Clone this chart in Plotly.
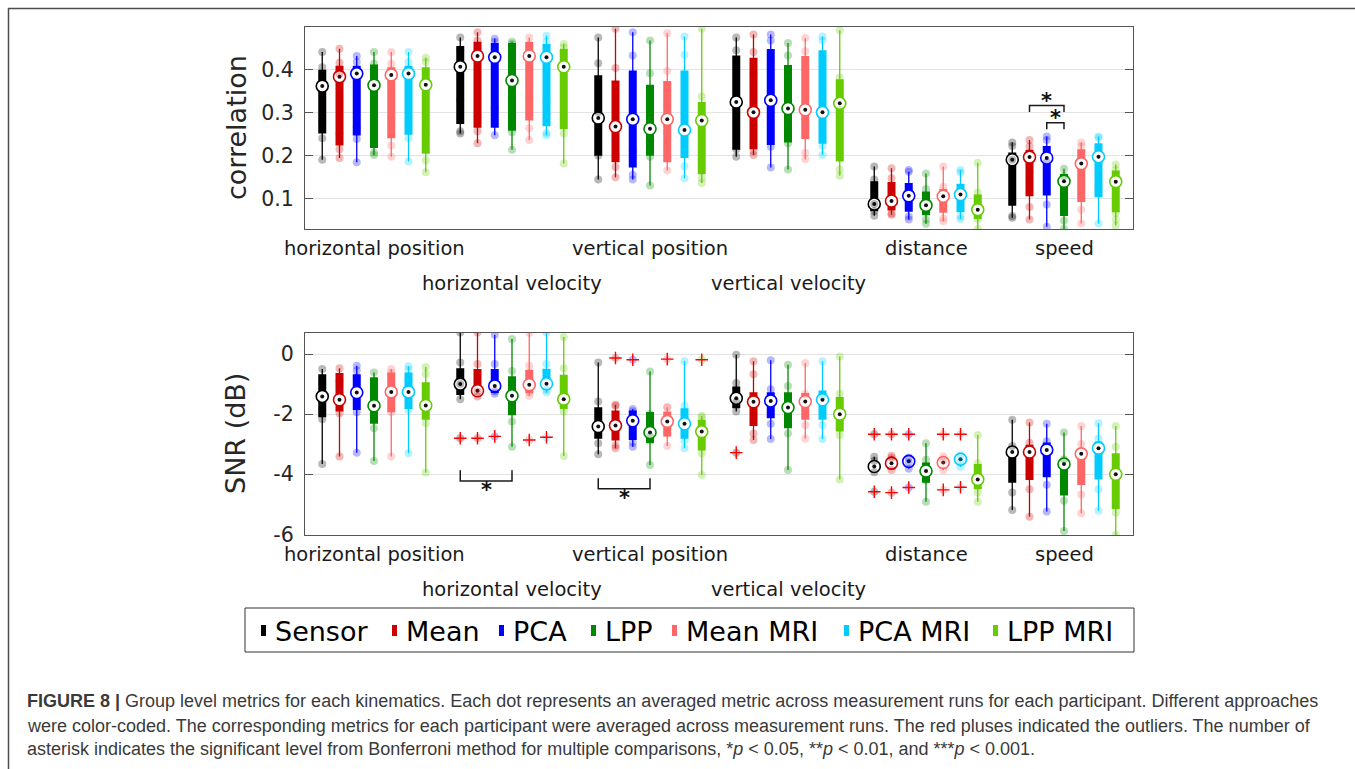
import plotly.graph_objects as go

METHODS = ["Sensor", "Mean", "PCA", "LPP", "Mean MRI", "PCA MRI", "LPP MRI"]
COLORS = ["#000000", "#cc0000", "#0000ff", "#008800", "#ff6666", "#00ccff", "#66cc00"]
KINEMATICS = ["horizontal position", "horizontal velocity", "vertical position",
              "vertical velocity", "distance", "speed"]
LABEL_ROW = [0, 1, 0, 1, 0, 0]   # labels alternate between two rows where they would collide

# ---------------- correlation (rows: methods, columns: kinematics) ----------------
CORR_Q1 = [
    [0.252, 0.274, 0.200, 0.214, 0.071, 0.084],
    [0.224, 0.265, 0.185, 0.215, 0.073, 0.106],
    [0.247, 0.265, 0.173, 0.225, 0.070, 0.108],
    [0.218, 0.258, 0.200, 0.231, 0.062, 0.060],
    [0.241, 0.282, 0.185, 0.239, 0.068, 0.093],
    [0.249, 0.269, 0.195, 0.228, 0.069, 0.104],
    [0.205, 0.262, 0.157, 0.187, 0.053, 0.069],
]
CORR_MED = [
    [0.362, 0.407, 0.288, 0.325, 0.088, 0.191],
    [0.384, 0.432, 0.268, 0.301, 0.095, 0.197],
    [0.391, 0.429, 0.285, 0.329, 0.107, 0.195],
    [0.364, 0.375, 0.263, 0.310, 0.085, 0.141],
    [0.388, 0.432, 0.285, 0.307, 0.106, 0.182],
    [0.391, 0.429, 0.260, 0.301, 0.110, 0.198],
    [0.365, 0.407, 0.282, 0.322, 0.075, 0.140],
]
CORR_Q3 = [
    [0.400, 0.455, 0.387, 0.433, 0.141, 0.208],
    [0.409, 0.465, 0.375, 0.428, 0.139, 0.214],
    [0.409, 0.462, 0.398, 0.448, 0.137, 0.223],
    [0.412, 0.462, 0.365, 0.411, 0.117, 0.158],
    [0.406, 0.465, 0.374, 0.432, 0.123, 0.215],
    [0.409, 0.460, 0.398, 0.445, 0.135, 0.229],
    [0.406, 0.449, 0.325, 0.378, 0.110, 0.166],
]
CORR_LO = [
    [0.191, 0.252, 0.145, 0.198, 0.061, 0.056],
    [0.195, 0.229, 0.150, 0.202, 0.063, 0.052],
    [0.185, 0.248, 0.145, 0.173, 0.052, 0.035],
    [0.202, 0.214, 0.131, 0.168, 0.042, 0.030],
    [0.198, 0.237, 0.166, 0.192, 0.048, 0.043],
    [0.187, 0.248, 0.148, 0.202, 0.053, 0.043],
    [0.162, 0.182, 0.137, 0.154, 0.030, 0.038],
]
CORR_HI = [
    [0.441, 0.475, 0.475, 0.475, 0.175, 0.231],
    [0.449, 0.487, 0.495, 0.482, 0.171, 0.237],
    [0.432, 0.472, 0.487, 0.482, 0.163, 0.245],
    [0.441, 0.465, 0.468, 0.462, 0.159, 0.170],
    [0.441, 0.475, 0.485, 0.474, 0.175, 0.231],
    [0.441, 0.479, 0.477, 0.477, 0.167, 0.245],
    [0.428, 0.460, 0.495, 0.492, 0.184, 0.180],
]
# participants lying between the whisker ends
CORR_PTS = [
    [[0.406, 0.387, 0.279, 0.241], [0.445, 0.330, 0.257], [0.415, 0.302, 0.201], [0.445, 0.215], [0.145, 0.088, 0.071], [0.223, 0.191, 0.060]],
    [[0.416, 0.391, 0.252, 0.215], [0.468, 0.290, 0.257], [0.404, 0.200, 0.174], [0.441, 0.390, 0.210], [0.148, 0.066], [0.222, 0.081]],
    [[0.418, 0.266, 0.239], [0.465, 0.310], [0.433, 0.211, 0.156], [0.468, 0.221], [0.167, 0.059], [0.237, 0.185, 0.087]],
    [[0.414, 0.391, 0.300, 0.208], [0.460, 0.271, 0.255], [0.392, 0.285, 0.198], [0.433, 0.229], [0.123, 0.052], [0.153, 0.049]],
    [[0.414, 0.289, 0.224], [0.456, 0.334, 0.264], [0.397, 0.316], [0.443, 0.207], [0.128, 0.055], [0.222, 0.075]],
    [[0.418, 0.272, 0.241], [0.465, 0.325, 0.253], [0.435, 0.176], [0.468, 0.223], [0.161, 0.059], [0.242, 0.124]],
    [[0.418, 0.252, 0.190], [0.452, 0.287, 0.252], [0.338, 0.148], [0.382, 0.307, 0.168], [0.115, 0.053], [0.167, 0.067, 0.052]],
]
CORR_OUT = [[[] for _ in KINEMATICS] for _ in METHODS]
CORR_TICKS = [0.1, 0.2, 0.3, 0.4]
CORR_RANGE = [0.03, 0.5]
# (kinematic, method a, method b, bracket level, stars)
CORR_SIG = [(5, 1, 3, 0.317, "*"), (5, 2, 3, 0.277, "*")]

# ---------------- SNR in dB ----------------
SNR_Q1 = [
    [-2.10, -1.36, -2.82, -1.80, -3.91, -4.28],
    [-1.91, -1.36, -2.88, -2.39, -3.83, -4.19],
    [-1.86, -1.30, -2.86, -2.14, -3.69, -4.10],
    [-2.32, -2.04, -2.97, -2.47, -4.28, -4.71],
    [-1.94, -1.30, -2.74, -2.19, -3.80, -4.36],
    [-1.83, -1.19, -2.82, -2.19, -3.66, -4.17],
    [-2.19, -1.83, -3.21, -2.58, -4.50, -5.16],
]
SNR_MED = [
    [-1.41, -1.00, -2.41, -1.47, -3.74, -3.26],
    [-1.52, -1.22, -2.38, -1.59, -3.63, -3.26],
    [-1.28, -1.06, -2.22, -1.56, -3.57, -3.19],
    [-1.72, -1.39, -2.61, -1.78, -3.89, -3.66],
    [-1.26, -1.02, -2.24, -1.58, -3.61, -3.32],
    [-1.26, -0.99, -2.32, -1.52, -3.50, -3.13],
    [-1.71, -1.50, -2.58, -2.00, -4.17, -4.00],
]
SNR_Q3 = [
    [-0.67, -0.47, -1.77, -1.08, -3.61, -3.08],
    [-0.63, -0.50, -1.88, -1.27, -3.50, -3.02],
    [-0.67, -0.50, -1.88, -1.27, -3.47, -2.94],
    [-0.77, -0.74, -1.93, -1.27, -3.61, -3.58],
    [-0.61, -0.52, -1.91, -1.30, -3.47, -3.17],
    [-0.61, -0.49, -1.80, -1.21, -3.39, -2.91],
    [-0.94, -0.69, -2.19, -1.43, -3.66, -3.30],
]
SNR_LO = [
    [-3.66, -1.50, -3.33, -1.91, -3.93, -5.19],
    [-3.41, -1.41, -3.13, -2.86, -3.86, -5.41],
    [-3.28, -1.32, -3.08, -2.83, -3.82, -5.24],
    [-3.56, -3.08, -3.69, -3.86, -4.91, -5.89],
    [-3.41, -1.39, -3.06, -2.82, -3.87, -5.30],
    [-3.30, -1.28, -3.13, -2.83, -3.76, -5.21],
    [-3.94, -3.39, -4.02, -4.17, -4.91, -6.02],
]
SNR_HI = [
    [-0.50, 0.72, -0.28, -0.02, -3.42, -2.19],
    [-0.47, 0.72, -1.69, -0.24, -3.38, -2.28],
    [-0.39, 0.64, -1.83, -0.21, -3.44, -2.32],
    [-0.61, 0.50, -0.58, -0.36, -2.97, -2.61],
    [-0.50, 0.70, -1.77, -0.30, -3.40, -2.39],
    [-0.41, 0.72, -0.24, -0.24, -3.37, -2.30],
    [-0.43, 0.57, -2.06, -0.08, -2.69, -2.39],
]
SNR_PTS = [
    [[-0.94, -1.83, -2.17], [-0.28, -1.00], [-1.58, -2.97], [-0.96, -1.60], [-3.55], [-3.06, -4.61]],
    [[-0.90, -1.97], [-0.33, -1.25], [-1.72, -3.04], [-0.67, -2.64], [-3.45], [-2.95, -4.50]],
    [[-0.55, -0.80, -1.94], [-0.33, -1.25], [-1.90, -2.95], [-1.17, -2.32], [-3.60], [-2.90, -4.35]],
    [[-1.13, -2.47], [-0.56, -2.24], [-2.00, -2.74], [-1.06, -2.64], [-3.52, -4.20], [-3.50, -4.30, -4.88]],
    [[-0.62, -1.94], [-0.39, -1.28], [-1.77, -2.63], [-1.33, -2.36], [-3.55], [-2.99, -4.67]],
    [[-0.52, -0.86, -1.86], [-0.33, -1.20], [-1.72, -2.89], [-1.37, -2.36], [-3.60], [-2.81, -4.50]],
    [[-0.66, -2.30], [-0.47, -1.91], [-2.10, -3.31], [-1.32, -2.69], [-3.63, -4.61], [-3.08, -5.28]],
]
SNR_OUT = [
    [[], [-2.80], [], [-3.28], [-2.67, -4.58], []],
    [[], [-2.80], [-0.13], [], [-2.67, -4.61], []],
    [[], [-2.74], [-0.19], [], [-2.67, -4.44], []],
    [[], [], [], [], [], []],
    [[], [-2.86], [-0.17], [], [-2.67, -4.52], []],
    [[], [-2.77], [], [], [-2.67, -4.43], []],
    [[], [], [-0.19], [], [], []],
]
SNR_TICKS = [0, -2, -4, -6]
SNR_RANGE = [-6.02, 0.71]
SNR_SIG = [(1, 0, 3, -4.22, "*"), (2, 0, 3, -4.48, "*")]

W = 1355
H = 781          # canvas height
REF_H = 769      # vertical layout grid in which positions below are expressed
FONT = "DejaVu Sans"
GROUP_STEP = 8


def px(x):
    return x / W


def py(y):
    return 1 - y / REF_H


def slot(g, m):
    return GROUP_STEP * g + 4 + (m - 3)


def rgba(hexc, a):
    r, g, b = int(hexc[1:3], 16), int(hexc[3:5], 16), int(hexc[5:7], 16)
    return f"rgba({r},{g},{b},{a})"


fig = go.Figure()

panels = [
    dict(xa="x", ya="y", q1=CORR_Q1, med=CORR_MED, q3=CORR_Q3, lo=CORR_LO, hi=CORR_HI,
         pts=CORR_PTS, out=CORR_OUT, sig=CORR_SIG, leg=0.015, star=0.011, sgn=1),
    dict(xa="x2", ya="y2", q1=SNR_Q1, med=SNR_MED, q3=SNR_Q3, lo=SNR_LO, hi=SNR_HI,
         pts=SNR_PTS, out=SNR_OUT, sig=SNR_SIG, leg=0.35, star=0.30, sgn=-1),
]

for p in panels:
    for m, (name, col) in enumerate(zip(METHODS, COLORS)):
        xs = [slot(g, m) for g in range(len(KINEMATICS))]
        wx, wy, bx, by = [], [], [], []
        for g, x in enumerate(xs):
            wx += [x, x, None]
            wy += [p["lo"][m][g], p["hi"][m][g], None]
            bx += [x, x, None]
            by += [p["q1"][m][g], p["q3"][m][g], None]
        common = dict(xaxis=p["xa"], yaxis=p["ya"], showlegend=False, hoverinfo="skip")
        # whiskers
        fig.add_trace(go.Scatter(x=wx, y=wy, mode="lines", line=dict(color=col, width=1.3), **common))
        # interquartile boxes
        fig.add_trace(go.Scatter(x=bx, y=by, mode="lines", line=dict(color=col, width=8), **common))
        # median: ringed circle with a dark centre
        fig.add_trace(go.Scatter(x=xs, y=p["med"][m], mode="markers",
                                 marker=dict(size=12, color="white", line=dict(color=col, width=1.6)),
                                 **common))
        fig.add_trace(go.Scatter(x=xs, y=p["med"][m], mode="markers",
                                 marker=dict(size=4, color="#111111", line=dict(width=0)), **common))
        # individual participants
        dx, dy = [], []
        for g, x in enumerate(xs):
            vals = [p["lo"][m][g], p["hi"][m][g]] + p["pts"][m][g] + p["out"][m][g]
            dx += [x] * len(vals)
            dy += vals
        fig.add_trace(go.Scatter(x=dx, y=dy, mode="markers",
                                 marker=dict(size=8, color=rgba(col, 0.28), line=dict(width=0)),
                                 **common))
        # outliers
        ox, oy = [], []
        for g, x in enumerate(xs):
            ox += [x] * len(p["out"][m][g])
            oy += p["out"][m][g]
        if ox:
            fig.add_trace(go.Scatter(x=ox, y=oy, mode="markers",
                                     marker=dict(symbol="cross-thin", size=9,
                                                 line=dict(color="#ff0000", width=1.4)),
                                     **common))
    # significance brackets
    for g, a, b, lvl, stars in p["sig"]:
        xa_, xb_ = slot(g, a), slot(g, b)
        end = lvl - p["sgn"] * p["leg"]
        fig.add_trace(go.Scatter(x=[xa_, xa_, xb_, xb_], y=[end, lvl, lvl, end], mode="lines",
                                 line=dict(color="#1a1a1a", width=1.5), xaxis=p["xa"], yaxis=p["ya"],
                                 showlegend=False, hoverinfo="skip"))
        fig.add_annotation(x=(xa_ + xb_) / 2, y=lvl + p["sgn"] * p["star"], xref=p["xa"], yref=p["ya"],
                           text=f"<b>{stars}</b>", showarrow=False, yanchor="middle",
                           font=dict(family=FONT, size=21, color="#111111"))

# axes
xdom = [px(305), px(1133)]
axis_common = dict(showline=True, linecolor="#555555", linewidth=1.3, zeroline=False, fixedrange=True)
x_common = dict(domain=xdom, range=[0, GROUP_STEP * len(KINEMATICS)], showgrid=False,
                showticklabels=False, ticks="", mirror=True, **axis_common)
y_common = dict(ticks="inside", ticklen=8, tickcolor="#555555", tickwidth=1.3, mirror="ticks",
                showgrid=True, gridcolor="#e3e3e3", gridwidth=1,
                tickfont=dict(family=FONT, size=20.5, color="#262626"), ticklabelstandoff=6,
                **axis_common)

fig.update_layout(
    width=W, height=H, margin=dict(l=0, r=0, t=0, b=0),
    paper_bgcolor="white", plot_bgcolor="white", showlegend=False,
    xaxis=dict(anchor="y", **x_common),
    xaxis2=dict(anchor="y2", **x_common),
    yaxis=dict(anchor="x", domain=[py(229), py(26.7)], range=CORR_RANGE,
               tickvals=CORR_TICKS, ticktext=[f"{v:g}" for v in CORR_TICKS], **y_common),
    yaxis2=dict(anchor="x2", domain=[py(535), py(332.7)], range=SNR_RANGE,
                tickvals=SNR_TICKS, ticktext=[f"{v:g}" for v in SNR_TICKS], **y_common),
)

# axis titles
for text, yc in [("correlation", 128), ("SNR (dB)", 434)]:
    fig.add_annotation(x=px(236), y=py(yc), xref="paper", yref="paper", text=text,
                       textangle=-90, showarrow=False, xanchor="center", yanchor="middle",
                       font=dict(family=FONT, size=27, color="#262626"))

# category labels under each panel, two staggered rows
for xa, rows in [("x", (248, 283)), ("x2", (554, 589))]:
    for g, lab in enumerate(KINEMATICS):
        fig.add_annotation(x=slot(g, 3), y=py(rows[LABEL_ROW[g]]), xref=xa, yref="paper",
                           text=lab, showarrow=False, xanchor="center", yanchor="middle",
                           font=dict(family=FONT, size=19.5, color="#1a1a1a"))

# legend
shapes = [dict(type="rect", xref="paper", yref="paper", x0=px(245), x1=px(1134), y0=py(652), y1=py(608),
               line=dict(color="#333333", width=1), fillcolor="white", layer="below")]
LEGEND_TEXT_X = [273, 404, 511, 603, 684, 856, 1005]
for name, col, tx in zip(METHODS, COLORS, LEGEND_TEXT_X):
    shapes.append(dict(type="rect", xref="paper", yref="paper", x0=px(tx - 12), x1=px(tx - 7),
                       y0=py(636), y1=py(625), line=dict(width=0), fillcolor=col))
    fig.add_annotation(x=px(tx), y=py(631), xref="paper", yref="paper", text=name, showarrow=False,
                       xanchor="left", yanchor="middle", font=dict(family=FONT, size=27, color="#000000"))

# frame around the figure (open on the right and bottom)
shapes.append(dict(type="line", xref="paper", yref="paper", x0=px(8), x1=1.0, y0=py(8.5), y1=py(8.5),
                   line=dict(color="#4d4d4d", width=1.5)))
shapes.append(dict(type="line", xref="paper", yref="paper", x0=px(8.5), x1=px(8.5), y0=py(8), y1=0.0,
                   line=dict(color="#4d4d4d", width=1.5)))
fig.update_layout(shapes=shapes)

# caption
CAPTION = [
    "<b>FIGURE 8 |</b> Group level metrics for each kinematics. Each dot represents an averaged metric "
    "across measurement runs for each participant. Different approaches",
    "were color-coded. The corresponding metrics for each participant were averaged across measurement "
    "runs. The red pluses indicated the outliers. The number of",
    "asterisk indicates the significant level from Bonferroni method for multiple comparisons, "
    "*<i>p</i> &lt; 0.05, **<i>p</i> &lt; 0.01, and ***<i>p</i> &lt; 0.001.",
]
for line, yc in zip(CAPTION, [701, 726, 749]):
    fig.add_annotation(x=px(25), y=py(yc), xref="paper", yref="paper", text=line, showarrow=False,
                       xanchor="left", yanchor="middle",
                       font=dict(family="Liberation Sans", size=18, color="#3a3a3a"))

fig.write_html("out.html")
